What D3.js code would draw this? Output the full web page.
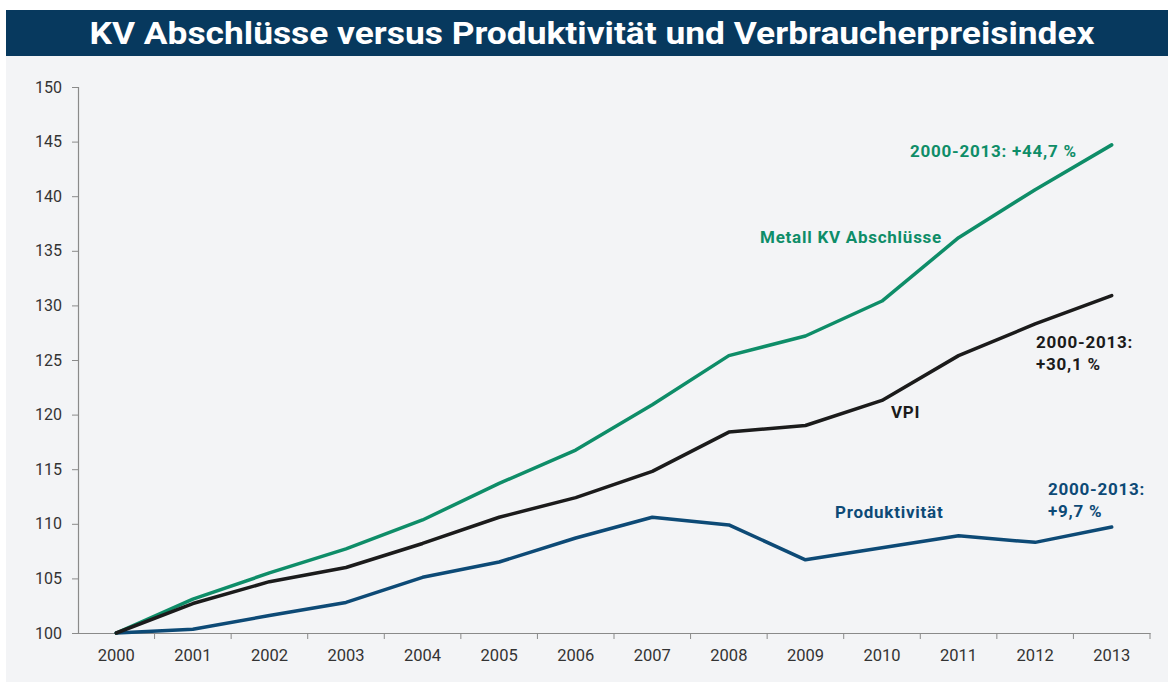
<!DOCTYPE html>
<html>
<head>
<meta charset="utf-8">
<script src="https://cdn.jsdelivr.net/npm/d3@7"></script>
<style>
  html, body { margin: 0; padding: 0; background: #ffffff; }
  svg { display: block; }
</style>
</head>
<body>
<svg id="chart"></svg>
<script>
'use strict'

const years = ['2000', '2001', '2002', '2003', '2004', '2005', '2006',
  '2007', '2008', '2009', '2010', '2011', '2012', '2013'];

const metall = [100, 103.1, 105.5, 107.7, 110.35, 113.7, 116.75,
  120.9, 125.4, 127.2, 130.4, 136.2, 140.6, 144.7];

const vpi = [100, 102.7, 104.7, 106.0, 108.2, 110.6, 112.4,
  114.8, 118.4, 119.0, 121.3, 125.4, 128.3, 130.9];

const produktivitaet = [100, 100.35, 101.6, 102.8, 105.1, 106.5, 108.7,
  110.6, 109.9, 106.7, 107.8, 108.9, 108.3, 109.7];

const yTicks = [100, 105, 110, 115, 120, 125, 130, 135, 140, 145, 150];

const title = 'KV Abschlüsse versus Produktivität und Verbraucherpreisindex';

const width = 1168, height = 684;
const GREEN = '#0e8d68', BLACK = '#1b1b1b', BLUE = '#0d4a76';

const svg = d3.select('#chart')
  .attr('width', width)
  .attr('height', height)
  .style('font-family', 'Roboto, "DejaVu Sans", sans-serif');

// panel background
svg.append('rect')
  .attr('x', 6).attr('y', 56)
  .attr('width', width - 6).attr('height', height - 58)
  .attr('fill', '#f3f4f6');

// title bar
svg.append('rect')
  .attr('x', 6).attr('y', 10)
  .attr('width', width - 6).attr('height', 46)
  .attr('fill', '#07395e');

svg.append('text')
  .attr('x', 592).attr('y', 44)
  .attr('text-anchor', 'middle')
  .attr('fill', '#ffffff')
  .attr('font-size', 31)
  .attr('font-weight', 700)
  .attr('textLength', 1005)
  .attr('lengthAdjust', 'spacingAndGlyphs')
  .text(title);

const plot = { left: 78, right: 1150, top: 87, bottom: 633 };

const x = d3.scaleBand()
  .domain(years)
  .range([plot.left, plot.right]);

const y = d3.scaleLinear()
  .domain([100, 150])
  .range([plot.bottom, plot.top]);

// y axis
const yAxis = svg.append('g')
  .attr('transform', `translate(${plot.left},0)`)
  .call(d3.axisLeft(y).tickValues(yTicks).tickSize(6).tickPadding(10));

yAxis.select('.domain').attr('stroke', '#8a8a8a').attr('stroke-width', 1.2);
yAxis.selectAll('.tick line').attr('stroke', '#8a8a8a');
yAxis.selectAll('.tick text')
  .attr('font-size', 16)
  .attr('fill', '#333')
  .attr('font-family', 'Roboto, sans-serif');

// x axis, ticks on the band edges
const xAxis = svg.append('g')
  .attr('transform', `translate(0,${plot.bottom})`)
  .call(d3.axisBottom(x).tickSize(0).tickPadding(16));

xAxis.select('.domain').attr('stroke', '#8a8a8a').attr('stroke-width', 1.2);
xAxis.selectAll('.tick text')
  .attr('font-size', 16.5)
  .attr('fill', '#333')
  .attr('font-family', 'Roboto, sans-serif');

svg.append('g')
  .selectAll('line')
  .data(years.slice(1).concat(['end']))
  .join('line')
  .attr('x1', d => d === 'end' ? plot.right : x(d))
  .attr('x2', d => d === 'end' ? plot.right : x(d))
  .attr('y1', plot.bottom)
  .attr('y2', plot.bottom + 6)
  .attr('stroke', '#8a8a8a');

// lines
const line = d3.line()
  .x((d, i) => x(years[i]) + x.bandwidth() / 2)
  .y(d => y(d));

const series = [
  { values: produktivitaet, color: BLUE },
  { values: metall, color: GREEN },
  { values: vpi, color: BLACK }
];

svg.append('g')
  .selectAll('path')
  .data(series)
  .join('path')
  .attr('d', d => line(d.values))
  .attr('fill', 'none')
  .attr('stroke', d => d.color)
  .attr('stroke-width', 3.5)
  .attr('stroke-linejoin', 'round')
  .attr('stroke-linecap', 'round');

// annotations
const labels = [
  { text: '2000-2013: +44,7 %', x: 910, y: 157, color: GREEN },
  { text: 'Metall KV Abschlüsse', x: 760, y: 243, color: GREEN },
  { text: '2000-2013:', x: 1036, y: 348, color: BLACK },
  { text: '+30,1 %', x: 1036, y: 370, color: BLACK },
  { text: 'VPI', x: 891, y: 418, color: BLACK },
  { text: '2000-2013:', x: 1048, y: 495, color: BLUE },
  { text: '+9,7 %', x: 1048, y: 517, color: BLUE },
  { text: 'Produktivität', x: 835, y: 518, color: BLUE }
];

svg.append('g')
  .selectAll('text')
  .data(labels)
  .join('text')
  .attr('x', d => d.x)
  .attr('y', d => d.y)
  .attr('fill', d => d.color)
  .attr('font-size', 17)
  .attr('font-weight', 700)
  .attr('letter-spacing', 0.75)
  .text(d => d.text);
</script>
</body>
</html>
